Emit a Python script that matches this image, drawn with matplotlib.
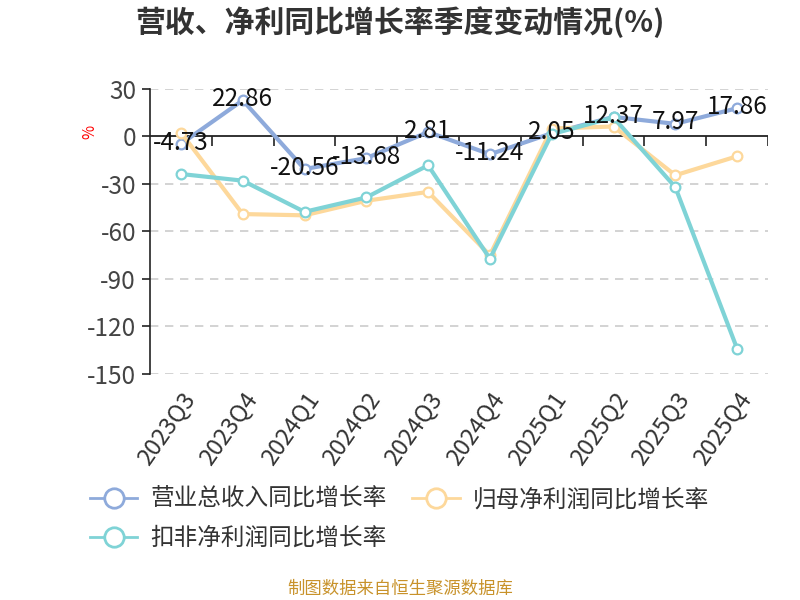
import matplotlib
matplotlib.use('Agg')
import matplotlib.pyplot as plt
from matplotlib.lines import Line2D

plt.rcParams['font.family'] = ['Noto Sans CJK SC', 'DejaVu Sans']

# data
quarters = ['2023Q3', '2023Q4', '2024Q1', '2024Q2', '2024Q3',
            '2024Q4', '2025Q1', '2025Q2', '2025Q3', '2025Q4']
revenue = [-4.73, 22.86, -20.56, -13.68, 2.81, -11.24, 2.05, 12.37, 7.97, 17.86]
net_profit = [2.5, -49.0, -49.8, -40.6, -35.0, -75.0, 5.0, 6.3, -24.5, -12.5]
deducted = [-23.7, -27.9, -47.6, -38.5, -18.2, -77.2, 1.5, 12.0, -32.0, -134.0]
names = ['营业总收入同比增长率', '归母净利润同比增长率', '扣非净利润同比增长率']
colors = ['#8eaadb', '#fdd89b', '#7fd3d6']
y_ticks = [30, 0, -30, -60, -90, -120, -150]

fig = plt.figure(figsize=(8, 6), dpi=100)
ax = fig.add_axes([0.1875, 0.3767, 0.7725, 0.475])

x = list(range(len(quarters)))
for vals, c in zip([revenue, net_profit, deducted], colors):
    ax.plot(x, vals, color=c, lw=3, marker='o', ms=7,
            markerfacecolor='white', markeredgecolor=c, markeredgewidth=1.6,
            zorder=3)

for xi, v in zip(x, revenue):
    ax.annotate(f'{v:.2f}', (xi, v), xytext=(0, 1), textcoords='offset points',
                ha='center', va='center', fontsize=17.5, color='#111111', zorder=5)

ax.set_xlim(-0.5, len(quarters) - 0.5)
ax.set_ylim(-150, 30)
ax.set_yticks(y_ticks)
ax.set_yticklabels([str(t) for t in y_ticks], fontsize=17.5, color='#444444')
for t in y_ticks:
    if t != 0:
        ax.axhline(t, color='#cccccc', lw=1.2, ls=(0, (5, 4)), zorder=1)
ax.axhline(0, color='#222222', lw=1.3, zorder=2)
# category boundary ticks on the zero line
ax.vlines([i + 0.5 for i in x], -6.3, 0, color='#222222', lw=1.2, zorder=2)

ax.set_xticks(x)
ax.set_xticklabels(quarters, rotation=55, ha='right', rotation_mode='anchor',
                   fontsize=17, color='#333333')
ax.tick_params(axis='x', length=0, pad=10)
ax.tick_params(axis='y', length=6, width=1.2, color='#222222', pad=4)

for s in ['top', 'right', 'bottom']:
    ax.spines[s].set_visible(False)
ax.spines['left'].set_color('#222222')
ax.spines['left'].set_linewidth(1.2)

ax.set_ylabel('%', color='red', fontsize=11, labelpad=2)
ax.yaxis.set_label_coords(-0.084, 0.85)

fig.text(0.5, 0.963, '营收、净利同比增长率季度变动情况(%)', ha='center', va='center',
         fontsize=21.5, fontweight='bold', color='#333333')

handles = [Line2D([0], [0], color=c, lw=2, marker='o', ms=14,
                  markerfacecolor='white', markeredgecolor=c, markeredgewidth=2)
           for c in colors]
# column-major fill: row 1 = first two series, row 2 = third
order = [0, 2, 1]
fig.legend([handles[i] for i in order], [names[i] for i in order],
           loc='upper left', bbox_to_anchor=(0.086, 0.222), ncol=2,
           frameon=False, fontsize=17, handlelength=2.0, handletextpad=0.55,
           columnspacing=1.1, labelspacing=0.68, labelcolor='#333333')

fig.text(0.5, 0.018, '制图数据来自恒生聚源数据库', ha='center', va='center',
         fontsize=12.5, color='#c8922a')

fig.savefig('out.png', dpi=100)
